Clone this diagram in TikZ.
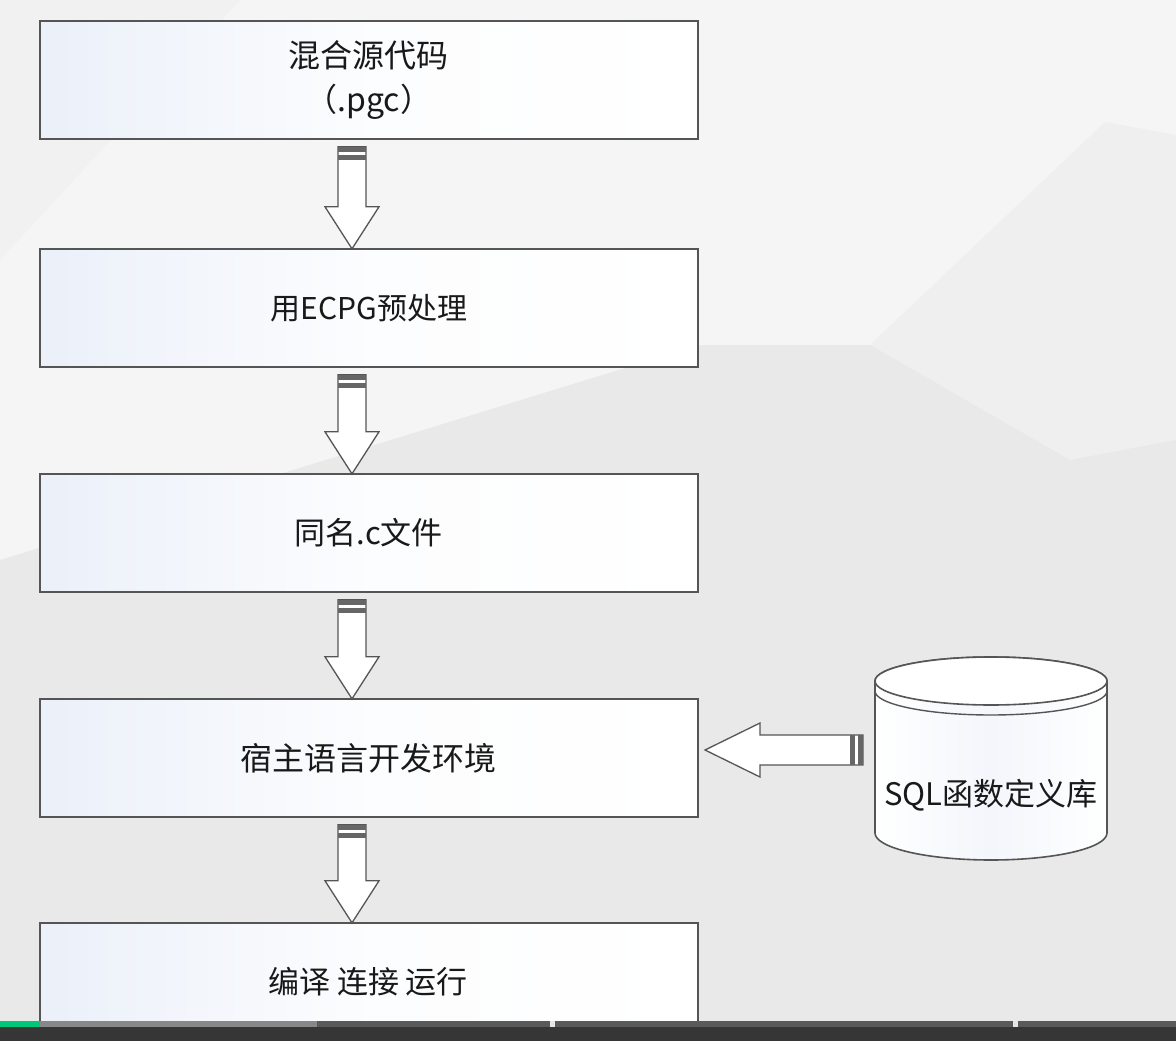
\documentclass[tikz,border=0pt]{standalone}
\usepackage{fontspec}
\newfontfamily\cjk{Noto Sans CJK SC}
\usetikzlibrary{calc}
\definecolor{bgA}{HTML}{F5F5F5}
\definecolor{bgB}{HTML}{E9E9E9}
\definecolor{bgC}{HTML}{EFEFEF}
\definecolor{edge}{HTML}{555555}
\definecolor{boxL}{HTML}{EBF0F9}
\definecolor{bandc}{HTML}{666666}
\definecolor{barD}{HTML}{363636}
\definecolor{barM}{HTML}{5A5A5A}
\definecolor{barL}{HTML}{888888}
\definecolor{barG}{HTML}{00C878}
\definecolor{barW}{HTML}{E6E6E6}
\tikzset{
  x=1pt, y=-1pt,
  stepbox/.style={draw=edge, line width=1.8pt, left color=boxL, right color=white, middle color=white!85!boxL,
    minimum width=658pt, minimum height=118pt, anchor=north west, inner sep=0pt,
    align=center, text=black!90},
  fs/.style={font=\cjk\fontsize{#1}{44}\selectfont},
  blk/.style={draw=edge, line width=1.3pt, fill=white, line join=miter},
  band/.style={fill=bandc},
  downblk/.pic={
    \draw[blk] (-14,0) -- (14,0) -- (14,#1-42) -- (27,#1-42) -- (0,#1) -- (-27,#1-42) -- (-14,#1-42) -- cycle;
    \fill[band] (-14,0) rectangle (14,5);
    \fill[band] (-14,8) rectangle (14,13);
  },
}
\begin{document}
\begin{tikzpicture}
\useasboundingbox (0,0) rectangle (1176,1041);
% background
\fill[bgA] (0,0) rectangle (1176,1041);
\fill[bgC] (700,345) -- (870,345) -- (1105,122) -- (1176,135) -- (1176,1041) -- (700,1041) -- cycle;
\fill[bgB] (0,560) -- (700,345) -- (870,345) -- (1070,460) -- (1176,440) -- (1176,1041) -- (0,1041) -- cycle;
\fill[bgC!60!bgA] (0,0) -- (240,0) -- (0,260) -- cycle;
% boxes
\node[stepbox, fs=32] (b1) at (39,20) {混合源代码\\（.pgc）};
\node[stepbox, fs=30] (b2) at (39,248) {用ECPG预处理};
\node[stepbox, fs=31] (b3) at (39,473) {同名.c文件};
\node[stepbox, fs=32] (b4) at (39,698) {宿主语言开发环境};
\node[stepbox, minimum height=130pt] (b5) at (39,922) {};
\node[fs=31, text=black!90] (t5) at (368,982) {编译 连接 运行};
% down arrows
\pic at ($(b1.south west)+(313,7)$) {downblk={102}};
\pic at ($(b2.south west)+(313,7)$) {downblk={99}};
\pic at ($(b3.south west)+(313,7)$) {downblk={99}};
\pic at ($(b4.south west)+(313,7)$) {downblk={98}};
% cylinder
\coordinate (cyl) at (991,681);
\draw[draw=edge, line width=1.6pt, left color=white, right color=white, middle color=boxL!60]
  (875,681) -- (875,833) arc[start angle=180, end angle=360, x radius=116pt, y radius=27pt]
  -- (1107,681) arc[start angle=0, end angle=180, x radius=116pt, y radius=24pt] -- cycle;
\draw[draw=edge, line width=1.6pt, fill=white] (cyl) ellipse[x radius=116pt, y radius=24pt];
\draw[draw=edge, line width=1.4pt] (875,691) arc[start angle=180, end angle=360, x radius=116pt, y radius=24pt];
\node[fs=31, text=black!90] (sql) at (991,795) {SQL函数定义库};
% left arrow
\coordinate (lt) at (863,735);
\draw[blk] (lt) -- (760,735) -- (760,723) -- (705,750) -- (760,777) -- (760,765) -- (863,765) -- cycle;
\fill[band] (858,735) rectangle (863,765);
\fill[band] (850,735) rectangle (855,765);
% player bar
\fill[barD] (0,1027) rectangle (1176,1041);
\fill[barG] (0,1021) rectangle (40,1027);
\fill[barL] (40,1021) rectangle (317,1027);
\fill[barM] (317,1021) rectangle (550,1027);
\fill[barW] (550,1021) rectangle (555,1027);
\fill[barM] (555,1021) rectangle (1013,1027);
\fill[barW] (1013,1021) rectangle (1018,1027);
\fill[barM] (1018,1021) rectangle (1176,1027);
\end{tikzpicture}
\end{document}
